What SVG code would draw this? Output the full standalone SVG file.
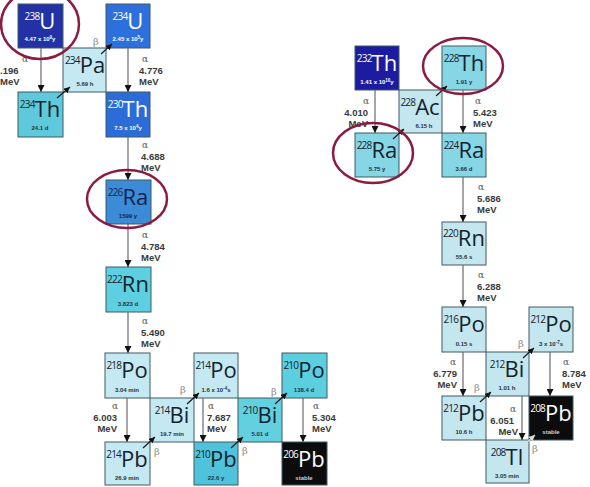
<svg xmlns="http://www.w3.org/2000/svg" width="590" height="487" viewBox="0 0 590 487">
<defs>
<marker id="ah" viewBox="0 0 10 10" refX="10" refY="5" markerWidth="7" markerHeight="7" markerUnits="userSpaceOnUse" orient="auto"><path d="M0,0 L10,5 L0,10 z" fill="#111"/></marker>
<marker id="bh" viewBox="0 0 10 10" refX="10" refY="5" markerWidth="6" markerHeight="6" markerUnits="userSpaceOnUse" orient="auto"><path d="M0,0 L10,5 L0,10 z" fill="#111"/></marker>
<marker id="bw" viewBox="0 0 10 10" refX="10" refY="5" markerWidth="6" markerHeight="6" markerUnits="userSpaceOnUse" orient="auto"><path d="M0,0 L10,5 L0,10 z" fill="#ddd"/></marker>
<style>
.box{stroke:#3e5a66;stroke-width:1}
.sym{font-family:"Open Sans","Noto Sans",sans-serif;font-size:22px;fill:#14222c;text-anchor:middle}
.m{font-size:10px;letter-spacing:-0.8px}
.hl{font-family:"Liberation Sans",Arial,sans-serif;font-weight:bold;font-size:6px;fill:#26333c;text-anchor:middle}
.w .sym,.w .hl{fill:#fff}
.nv .sym{fill:#132450}
.nv .hl{fill:#132450}
.a{stroke:#6a6a6a;stroke-width:1.2;fill:none;marker-end:url(#ah)}
.b{stroke:#1a1a1a;stroke-width:1.2;fill:none;marker-end:url(#bh)}
.bl{stroke:#ddd;stroke-width:1.2;fill:none;marker-end:url(#bw)}
.lbl{font-family:"Liberation Sans",Arial,sans-serif;font-weight:bold;font-size:9.5px;fill:#3a3a3a}
.al{font-family:"DejaVu Serif",serif;font-size:9px;fill:#555}
.be{font-family:"DejaVu Serif",serif;font-size:10px;fill:#8a8a8a}
.r{text-anchor:end}
.ell{fill:none;stroke:#8c1c3f;stroke-width:2.5}
</style>
</defs>
<rect width="590" height="487" fill="#fff"/>

<!-- Uranium series -->
<g id="U238" class="w"><rect class="box" x="18" y="4" width="45" height="44" fill="#2231a6"/><text class="sym" x="40" y="29"><tspan class="m" dy="-9">238</tspan><tspan dy="9">U</tspan></text><text class="hl" x="40" y="41">4.47 x 10<tspan font-size="4.5" dy="-2.5">9</tspan><tspan dy="2.5">y</tspan></text></g>
<g id="U234" class="w"><rect class="box" x="106" y="4" width="44" height="44" fill="#2d6fdc"/><text class="sym" x="128" y="29"><tspan class="m" dy="-9">234</tspan><tspan dy="9">U</tspan></text><text class="hl" x="128" y="41">2.45 x 10<tspan font-size="4.5" dy="-2.5">5</tspan><tspan dy="2.5">y</tspan></text></g>
<g id="Pa234"><rect class="box" x="63" y="48" width="43" height="44" fill="#c5e9f2"/><text class="sym" x="85" y="73"><tspan class="m" dy="-9">234</tspan><tspan dy="9">Pa</tspan></text><text class="hl" x="85" y="86">5.69 h</text></g>
<g id="Th234"><rect class="box" x="18" y="92" width="45" height="45" fill="#5fc9dc"/><text class="sym" x="40" y="117"><tspan class="m" dy="-9">234</tspan><tspan dy="9">Th</tspan></text><text class="hl" x="40" y="130">24.1 d</text></g>
<g id="Th230" class="w"><rect class="box" x="106" y="92" width="44" height="45" fill="#2b6cd8"/><text class="sym" x="128" y="117"><tspan class="m" dy="-9">230</tspan><tspan dy="9">Th</tspan></text><text class="hl" x="128" y="130">7.5 x 10<tspan font-size="4.5" dy="-2.5">4</tspan><tspan dy="2.5">y</tspan></text></g>
<g id="Ra226" class="nv"><rect class="box" x="106" y="180" width="45" height="44" fill="#3b8bd6"/><text class="sym" x="128" y="205"><tspan class="m" dy="-9">226</tspan><tspan dy="9">Ra</tspan></text><text class="hl" x="128" y="218">1599 y</text></g>
<g id="Rn222"><rect class="box" x="106" y="267" width="45" height="45" fill="#5ecfe0"/><text class="sym" x="128" y="292"><tspan class="m" dy="-9">222</tspan><tspan dy="9">Rn</tspan></text><text class="hl" x="128" y="306">3.823 d</text></g>
<g id="Po218"><rect class="box" x="105" y="353" width="45" height="45" fill="#c5e9f2"/><text class="sym" x="127" y="378"><tspan class="m" dy="-9">218</tspan><tspan dy="9">Po</tspan></text><text class="hl" x="127" y="392">3.04 min</text></g>
<g id="Pb214"><rect class="box" x="105" y="442" width="45" height="43" fill="#c5e9f2"/><text class="sym" x="127" y="467"><tspan class="m" dy="-9">214</tspan><tspan dy="9">Pb</tspan></text><text class="hl" x="127" y="480">26.9 min</text></g>
<g id="Bi214"><rect class="box" x="150" y="398" width="44" height="44" fill="#c5e9f2"/><text class="sym" x="172" y="423"><tspan class="m" dy="-9">214</tspan><tspan dy="9">Bi</tspan></text><text class="hl" x="172" y="436">19.7 min</text></g>
<g id="Po214"><rect class="box" x="194" y="353" width="44" height="45" fill="#c5e9f2"/><text class="sym" x="216" y="378"><tspan class="m" dy="-9">214</tspan><tspan dy="9">Po</tspan></text><text class="hl" x="216" y="392">1.6 x 10<tspan font-size="4.5" dy="-2.5">-4</tspan><tspan dy="2.5">s</tspan></text></g>
<g id="Pb210"><rect class="box" x="194" y="442" width="44" height="43" fill="#4fc3dc"/><text class="sym" x="216" y="467"><tspan class="m" dy="-9">210</tspan><tspan dy="9">Pb</tspan></text><text class="hl" x="216" y="480">22.6 y</text></g>
<g id="Bi210"><rect class="box" x="238" y="398" width="44" height="44" fill="#63d0e0"/><text class="sym" x="260" y="423"><tspan class="m" dy="-9">210</tspan><tspan dy="9">Bi</tspan></text><text class="hl" x="260" y="436">5.01 d</text></g>
<g id="Po210"><rect class="box" x="282" y="353" width="45" height="45" fill="#5bcfe0"/><text class="sym" x="304" y="378"><tspan class="m" dy="-9">210</tspan><tspan dy="9">Po</tspan></text><text class="hl" x="304" y="392">138.4 d</text></g>
<g id="Pb206" class="w"><rect class="box" x="282" y="442" width="45" height="43" fill="#0c0c0c"/><text class="sym" x="304" y="467"><tspan class="m" dy="-9">206</tspan><tspan dy="9">Pb</tspan></text><text class="hl" x="304" y="480" style="fill:#ccc">stable</text></g>

<!-- Thorium series -->
<g id="Th232" class="w"><rect class="box" x="355" y="46" width="44" height="44" fill="#1d1ca0"/><text class="sym" x="377" y="71"><tspan class="m" dy="-9">232</tspan><tspan dy="9">Th</tspan></text><text class="hl" x="377" y="84">1.41 x 10<tspan font-size="4.5" dy="-2.5">10</tspan><tspan dy="2.5">y</tspan></text></g>
<g id="Ac228"><rect class="box" x="399" y="90" width="43" height="43" fill="#c3e6ef"/><text class="sym" x="420" y="115"><tspan class="m" dy="-9">228</tspan><tspan dy="9">Ac</tspan></text><text class="hl" x="424" y="128">6.15 h</text></g>
<g id="Th228"><rect class="box" x="442" y="46" width="44" height="44" fill="#86d6e6"/><text class="sym" x="464" y="71"><tspan class="m" dy="-9">228</tspan><tspan dy="9">Th</tspan></text><text class="hl" x="464" y="84">1.91 y</text></g>
<g id="Ra228"><rect class="box" x="355" y="133" width="44" height="44" fill="#86d6e6"/><text class="sym" x="377" y="158"><tspan class="m" dy="-9">228</tspan><tspan dy="9">Ra</tspan></text><text class="hl" x="377" y="171">5.75 y</text></g>
<g id="Ra224"><rect class="box" x="442" y="133" width="44" height="44" fill="#86d6e6"/><text class="sym" x="464" y="158"><tspan class="m" dy="-9">224</tspan><tspan dy="9">Ra</tspan></text><text class="hl" x="464" y="171">3.66 d</text></g>
<g id="Rn220"><rect class="box" x="442" y="222" width="44" height="43" fill="#c3e6ef"/><text class="sym" x="464" y="246"><tspan class="m" dy="-9">220</tspan><tspan dy="9">Rn</tspan></text><text class="hl" x="464" y="259">55.6 s</text></g>
<g id="Po216"><rect class="box" x="442" y="307" width="44" height="45" fill="#c3e6ef"/><text class="sym" x="464" y="332"><tspan class="m" dy="-9">216</tspan><tspan dy="9">Po</tspan></text><text class="hl" x="464" y="346">0.15 s</text></g>
<g id="Po212"><rect class="box" x="529" y="307" width="44" height="45" fill="#c3e6ef"/><text class="sym" x="551" y="332"><tspan class="m" dy="-9">212</tspan><tspan dy="9">Po</tspan></text><text class="hl" x="551" y="346">3 x 10<tspan font-size="4.5" dy="-2.5">-7</tspan><tspan dy="2.5">s</tspan></text></g>
<g id="Bi212"><rect class="box" x="486" y="352" width="43" height="44" fill="#c3e6ef"/><text class="sym" x="507" y="377"><tspan class="m" dy="-9">212</tspan><tspan dy="9">Bi</tspan></text><text class="hl" x="507" y="390">1.01 h</text></g>
<g id="Pb212"><rect class="box" x="442" y="396" width="44" height="44" fill="#c3e6ef"/><text class="sym" x="464" y="421"><tspan class="m" dy="-9">212</tspan><tspan dy="9">Pb</tspan></text><text class="hl" x="464" y="434">10.6 h</text></g>
<g id="Pb208" class="w"><rect class="box" x="529" y="396" width="44" height="44" fill="#0c0c0c"/><text class="sym" x="551" y="421"><tspan class="m" dy="-9">208</tspan><tspan dy="9">Pb</tspan></text><text class="hl" x="551" y="434" style="fill:#ccc">stable</text></g>
<g id="Tl208"><rect class="box" x="486" y="440" width="43" height="43" fill="#c3e6ef"/><text class="sym" x="507" y="465"><tspan class="m" dy="-9">208</tspan><tspan dy="9">Tl</tspan></text><text class="hl" x="507" y="478">3.05 min</text></g>

<g id="connectors">
<line class="a" x1="41" y1="48" x2="41" y2="92"/>
<line class="a" x1="128" y1="48" x2="128" y2="92"/>
<line class="a" x1="128" y1="137" x2="128" y2="180"/>
<line class="a" x1="128" y1="224" x2="128" y2="267"/>
<line class="a" x1="128" y1="312" x2="128" y2="353"/>
<line class="a" x1="127" y1="398" x2="127" y2="442"/>
<line class="a" x1="203" y1="398" x2="203" y2="442"/>
<line class="a" x1="303" y1="398" x2="303" y2="442"/>
<line class="a" x1="375" y1="90" x2="375" y2="133"/>
<line class="a" x1="463" y1="90" x2="463" y2="133"/>
<line class="a" x1="463" y1="177" x2="463" y2="222"/>
<line class="a" x1="463" y1="265" x2="463" y2="307"/>
<line class="a" x1="463" y1="352" x2="463" y2="396"/>
<line class="a" x1="550" y1="352" x2="550" y2="396"/>
<line class="a" x1="522" y1="396" x2="522" y2="440"/>
<line class="b" x1="57" y1="98" x2="70" y2="87"/>
<line class="b" x1="101" y1="54" x2="112" y2="44"/>
<line class="b" x1="143" y1="448" x2="155" y2="437"/>
<line class="b" x1="187" y1="404" x2="199" y2="393"/>
<line class="b" x1="231" y1="448" x2="243" y2="437"/>
<line class="b" x1="275" y1="404" x2="287" y2="393"/>
<line class="b" x1="393" y1="139" x2="404" y2="129"/>
<line class="b" x1="436" y1="96" x2="447" y2="86"/>
<line class="b" x1="480" y1="402" x2="491" y2="392"/>
<line class="b" x1="523" y1="358" x2="534" y2="348"/>
<line class="bl" x1="524" y1="445" x2="535" y2="435"/>
</g>

<g id="labels">
<text class="al" x="22" y="62">α</text><text class="lbl" x="0" y="74">.196</text><text class="lbl" x="0" y="85">MeV</text>
<text class="al" x="142" y="62">α</text><text class="lbl" x="139" y="74">4.776</text><text class="lbl" x="139" y="85">MeV</text>
<text class="al" x="142" y="148">α</text><text class="lbl" x="141" y="160">4.688</text><text class="lbl" x="141" y="171">MeV</text>
<text class="al" x="142" y="238">α</text><text class="lbl" x="141" y="250">4.784</text><text class="lbl" x="141" y="261">MeV</text>
<text class="al" x="142" y="324">α</text><text class="lbl" x="141" y="336">5.490</text><text class="lbl" x="141" y="347">MeV</text>
<text class="al r" x="118" y="409">α</text><text class="lbl r" x="117" y="421">6.003</text><text class="lbl r" x="117" y="432">MeV</text>
<text class="al" x="208" y="409">α</text><text class="lbl" x="207" y="421">7.687</text><text class="lbl" x="207" y="432">MeV</text>
<text class="al" x="313" y="409">α</text><text class="lbl" x="312" y="421">5.304</text><text class="lbl" x="312" y="432">MeV</text>
<text class="al r" x="369" y="104">α</text><text class="lbl r" x="368" y="116">4.010</text><text class="lbl r" x="368" y="127">MeV</text>
<text class="al" x="475" y="104">α</text><text class="lbl" x="473" y="116">5.423</text><text class="lbl" x="473" y="127">MeV</text>
<text class="al" x="478" y="190">α</text><text class="lbl" x="477" y="202">5.686</text><text class="lbl" x="477" y="213">MeV</text>
<text class="al" x="478" y="278">α</text><text class="lbl" x="477" y="290">6.288</text><text class="lbl" x="477" y="301">MeV</text>
<text class="al r" x="456" y="365">α</text><text class="lbl r" x="457" y="377">6.779</text><text class="lbl r" x="457" y="388">MeV</text>
<text class="al" x="563" y="365">α</text><text class="lbl" x="562" y="377">8.784</text><text class="lbl" x="562" y="388">MeV</text>
<text class="al r" x="516" y="412">α</text><text class="lbl r" x="514" y="424">6.051</text><text class="lbl r" x="518" y="435">MeV</text>
<text class="be" x="93" y="45">β</text>
<text class="be" x="180" y="393">β</text>
<text class="be" x="154" y="455">β</text>
<text class="be" x="271" y="395">β</text>
<text class="be" x="242" y="454">β</text>
<text class="be" x="518" y="347">β</text>
<text class="be" x="474" y="391">β</text>
<text class="be" x="532" y="452">β</text>
</g>

<g id="highlights">
<ellipse class="ell" cx="40" cy="24" rx="39" ry="35"/>
<ellipse class="ell" cx="127" cy="199" rx="40" ry="29"/>
<ellipse class="ell" cx="463" cy="66" rx="40" ry="28"/>
<ellipse class="ell" cx="373" cy="153" rx="40" ry="30"/>
</g>
</svg>
